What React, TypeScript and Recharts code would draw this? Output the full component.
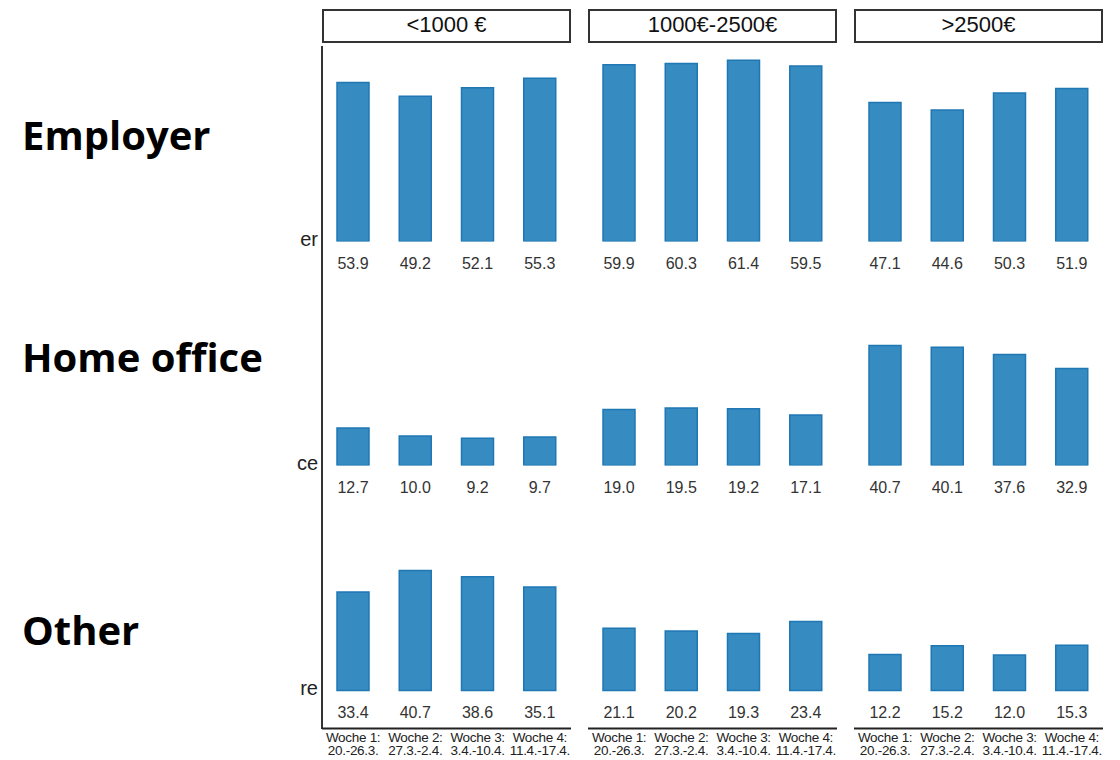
import { BarChart, Bar, XAxis, YAxis, LabelList } from 'recharts'

const groups = ['<1000 €', '1000€-2500€', '>2500€']
const weeks = ['Woche 1:', 'Woche 2:', 'Woche 3:', 'Woche 4:']
const dates = ['20.-26.3.', '27.3.-2.4.', '3.4.-10.4.', '11.4.-17.4.']
const rowLabels = ['Employer', 'Home office', 'Other']
const cutLabels = ['er', 'ce', 're']

const employer = [
	[53.9, 49.2, 52.1, 55.3],
	[59.9, 60.3, 61.4, 59.5],
	[47.1, 44.6, 50.3, 51.9]
]
const homeOffice = [
	[12.7, 10.0, 9.2, 9.7],
	[19.0, 19.5, 19.2, 17.1],
	[40.7, 40.1, 37.6, 32.9]
]
const other = [
	[33.4, 40.7, 38.6, 35.1],
	[21.1, 20.2, 19.3, 23.4],
	[12.2, 15.2, 12.0, 15.3]
]
const rows = [employer, homeOffice, other]

const PX = 2.95 // px per percent point
const YMAX = 70
const PANEL_W = 249
const colX = [322, 588, 854]
const rowBase = [241, 465, 690]
const AXIS_Y = 728
const labelRowY = [153, 375, 648]

const FILL = '#368BC0'
const STROKE = '#1F77B4'

function ValueLabel(props: any) {
	const { x, y, width, height, value } = props
	return (
		<text x={x + width / 2} y={y + height + 27} textAnchor="middle" fontSize={16} fill="#333" fontFamily="Liberation Sans, Arial">
			{Number(value).toFixed(1)}
		</text>
	)
}

function WeekTick(props: any) {
	const { x, y, index } = props
	return (
		<text x={x} y={y} textAnchor="middle" fontSize={13.5} fill="#222" fontFamily="Liberation Sans, Arial" letterSpacing={-0.3}>
			<tspan x={x} dy={5}>{weeks[index]}</tspan>
			<tspan x={x} dy={13}>{dates[index]}</tspan>
		</text>
	)
}

function Panel({ values, col, row }: { values: number[]; col: number; row: number }) {
	const last = row === 2
	const data = values.map((v, i) => ({ week: weeks[i], value: v }))
	const top = rowBase[row] - YMAX * PX
	const ymin = last ? -(AXIS_Y - rowBase[row]) / PX : 0
	const plotH = (YMAX - ymin) * PX
	const axisH = last ? 32 : 0
	return (
		<div style={{ position: 'absolute', left: colX[col], top }}>
			<BarChart
				width={PANEL_W}
				height={plotH + axisH + (last ? 0 : 36)}
				data={data}
				margin={{ top: 0, right: 0, bottom: last ? 0 : 36, left: 0 }}
			>
				<XAxis
					dataKey="week"
					hide={!last}
					height={axisH}
					axisLine={{ stroke: '#222', strokeWidth: 2 }}
					tickLine={false}
					tick={<WeekTick />}
					interval={0}
				/>
				<YAxis hide type="number" domain={[ymin, YMAX]} allowDataOverflow />
				<Bar dataKey="value" fill={FILL} stroke={STROKE} strokeWidth={1.5} barSize={32} isAnimationActive={false}>
					<LabelList dataKey="value" content={<ValueLabel />} />
				</Bar>
			</BarChart>
		</div>
	)
}

export default function App() {
	return (
		<div style={{ position: 'absolute', left: 0, top: 0, width: 1120, height: 760, background: '#fff', fontFamily: 'Liberation Sans, Arial' }}>
			{groups.map((g, c) => (
				<div
					key={g}
					style={{
						position: 'absolute',
						left: colX[c],
						top: 9,
						width: PANEL_W - 4,
						height: 30,
						border: '2px solid #333',
						textAlign: 'center',
						fontSize: 22,
						lineHeight: '28px',
						color: '#111'
					}}
				>
					{g}
				</div>
			))}
			<div style={{ position: 'absolute', left: 321, top: 46, width: 2, height: AXIS_Y - 45, background: '#333' }} />
			{rowLabels.map((l, r) => (
				<div key={l}>
					<div
						style={{
							position: 'absolute',
							left: 22,
							top: labelRowY[r] - 45,
							fontFamily: 'Open Sans',
							fontWeight: 700,
							fontSize: 40,
							lineHeight: '54px',
							color: '#000',
							whiteSpace: 'nowrap'
						}}
					>
						{l}
					</div>
					<div
						style={{
							position: 'absolute',
							right: 1120 - 318,
							top: rowBase[r] - 14,
							fontSize: 20,
							lineHeight: '24px',
							color: '#222'
						}}
					>
						{cutLabels[r]}
					</div>
				</div>
			))}
			{rows.map((rowData, r) => rowData.map((vals, c) => <Panel key={`${r}-${c}`} values={vals} col={c} row={r} />))}
		</div>
	)
}
